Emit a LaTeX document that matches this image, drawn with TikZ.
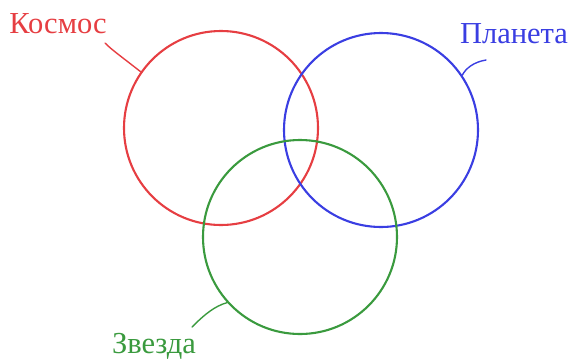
\documentclass[tikz,border=0pt]{standalone}
\usepackage{fontspec}
\setmainfont{Liberation Serif}
\definecolor{kred}{RGB}{230,62,66}
\definecolor{pblue}{RGB}{58,62,226}
\definecolor{zgreen}{RGB}{58,154,62}
\tikzset{
  ring/.style={circle,draw=#1,line width=2.1pt,minimum size=194pt,inner sep=0pt},
  tag/.style={anchor=base,text=#1,font=\fontsize{30.5}{36}\selectfont},
  lead/.style={draw=#1,line width=1.4pt}
}
\begin{document}
\begin{tikzpicture}[x=1pt,y=-1pt,line cap=round,line join=round]
  % three overlapping sets with curly leaders to their names
  \useasboundingbox (0,0) rectangle (574,360);
  \node[ring=kred] (kosmos) at (221,128) {};
  \node[ring=pblue] (planeta) at (381,130) {};
  \node[ring=zgreen] (zvezda) at (300,237) {};

  \node[tag=kred] (kosmoslbl) at (58,33) {Космос};
  \node[tag=pblue] (planetalbl) at (514,43) {Планета};
  \node[tag=zgreen] (zvezdalbl) at (154,353) {Звезда};

  \coordinate (k0) at (105,43);
  \coordinate (p0) at (486,60);
  \coordinate (z0) at (192,327);
  \draw[lead=kred] (k0) .. controls (112,50) and (118,54) .. (kosmos.145);
  \draw[lead=pblue] (p0) .. controls (474,62) and (466,68) .. (planeta.34);
  \draw[lead=zgreen] (z0) .. controls (205,314) and (215,306) .. (zvezda.222);
\end{tikzpicture}
\end{document}
